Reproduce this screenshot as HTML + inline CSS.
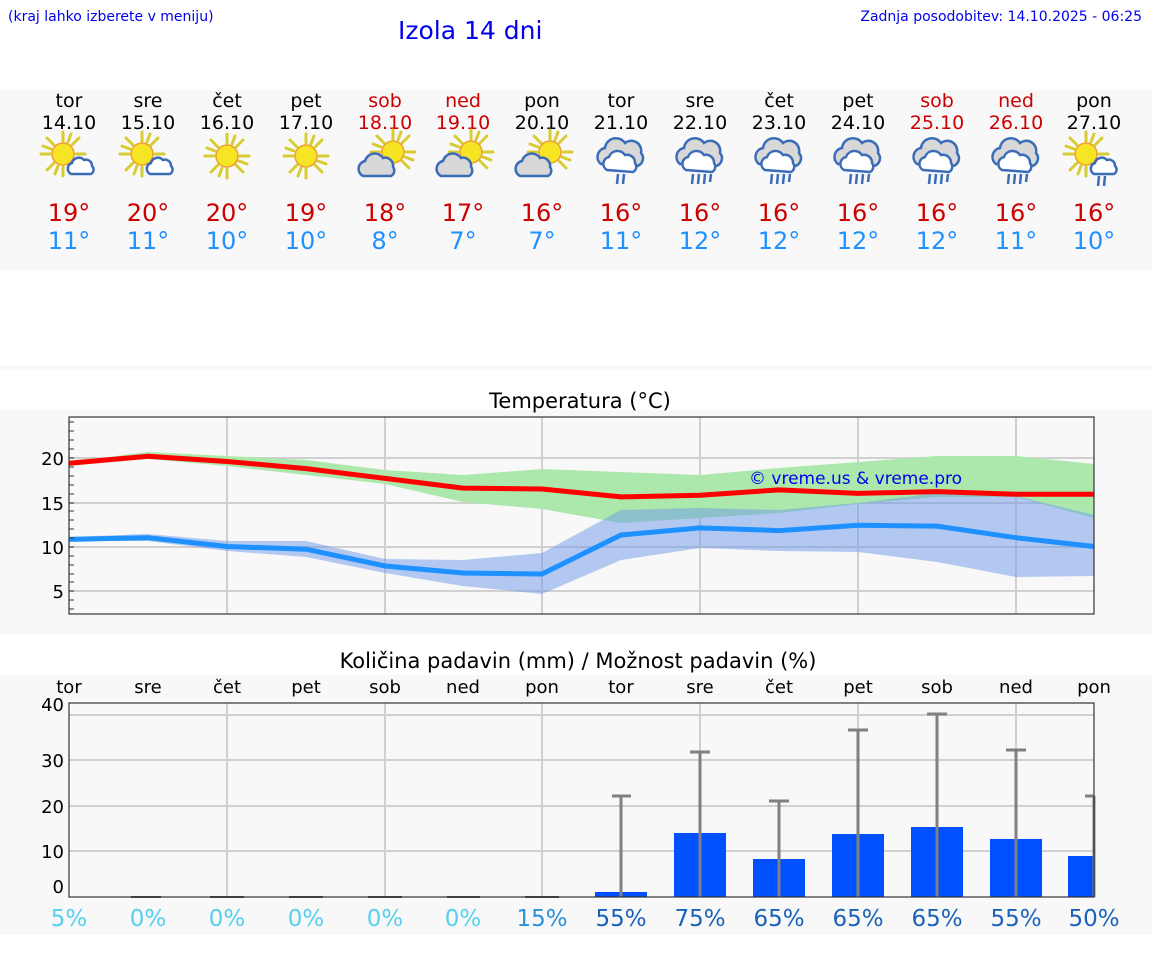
<!DOCTYPE html>
<html><head><meta charset="utf-8"><style>
body{margin:0;background:#fff;}
svg{display:block;font-family:"DejaVu Sans","Liberation Sans",sans-serif;}
</style></head><body>
<svg width="1152" height="975" viewBox="0 0 1152 975" xmlns="http://www.w3.org/2000/svg">
<defs>
<g id="sun">
 <g stroke="#d8cc30" stroke-width="3" stroke-linecap="round">
  <line x1="0" y1="-13" x2="0" y2="-22"/><line x1="0" y1="13" x2="0" y2="22"/>
  <line x1="-13" y1="0" x2="-22" y2="0"/><line x1="13" y1="0" x2="22" y2="0"/>
  <line x1="9" y1="-9" x2="16" y2="-16"/><line x1="-9" y1="9" x2="-16" y2="16"/>
  <line x1="-9" y1="-9" x2="-16" y2="-16"/><line x1="9" y1="9" x2="16" y2="16"/>
  <line x1="5" y1="-12" x2="8" y2="-20"/><line x1="-5" y1="12" x2="-8" y2="20"/>
  <line x1="-12" y1="-5" x2="-20" y2="-8"/><line x1="12" y1="5" x2="20" y2="8"/>
 </g>
 <circle r="11" fill="#f5e525" stroke="#eea030" stroke-width="1.5"/>
</g>
<path id="smallcloud" d="M-10,8 a6,6 0 0 1 1,-11 a7,7 0 0 1 12,-3 a6,6 0 0 1 8,6 a5,5 0 0 1 -1,8 z" fill="#fff" stroke="#3a6cb8" stroke-width="2.5"/>
<path id="graycloud" d="M-16,10 a8,8 0 0 1 2,-15 a10,10 0 0 1 18,-3 a8,8 0 0 1 10,9 a6,6 0 0 1 -2,9 z" fill="#d8d8d8" stroke="#3a6cb8" stroke-width="2.5"/>
<g id="raincloud">
 <path d="M-20,4 a9,9 0 0 1 4,-16 a11,11 0 0 1 20,-5 a10,10 0 0 1 16,10 a8,8 0 0 1 -4,13 z" fill="#d8d8d8" stroke="#3a6cb8" stroke-width="2.5"/>
 <path d="M-14,10 a7,7 0 0 1 2,-13 a9,9 0 0 1 16,-2 a8,8 0 0 1 10,8 a6,6 0 0 1 -2,9 z" fill="#fff" stroke="#3a6cb8" stroke-width="2.5"/>
</g>
<g id="drops4" stroke="#3a6cb8" stroke-width="2.5"><line x1="-7" y1="14" x2="-8" y2="24"/><line x1="-1" y1="14" x2="-2" y2="24"/><line x1="5" y1="14" x2="4" y2="24"/><line x1="11" y1="14" x2="10" y2="22"/></g>
<g id="drops2" stroke="#3a6cb8" stroke-width="2.5"><line x1="-3" y1="14" x2="-4" y2="24"/><line x1="3" y1="14" x2="2" y2="24"/></g>
<g id="i_sunc"><use href="#sun" x="-6" y="-4"/><use href="#smallcloud" x="12" y="8"/></g>
<g id="i_sun"><use href="#sun"/></g>
<g id="i_csun"><use href="#sun" x="8" y="-6"/><use href="#graycloud" x="-6" y="8"/></g>
<g id="i_rain"><use href="#raincloud"/><use href="#drops4"/></g>
<g id="i_rain2"><use href="#raincloud"/><use href="#drops2"/></g>
<g id="i_sunrain"><use href="#sun" x="-8" y="-6"/><use href="#smallcloud" x="10" y="6"/><use href="#drops2" x="8" y="2"/></g>
</defs>

<text x="8" y="21" font-size="14" fill="#0000ee">(kraj lahko izberete v meniju)</text>
<text x="398" y="39" font-size="25" fill="#0000ee">Izola 14 dni</text>
<text x="1142" y="21" font-size="14" fill="#0000ee" text-anchor="end">Zadnja posodobitev: 14.10.2025 - 06:25</text>

<rect x="0" y="90" width="1152" height="180" fill="#f8f8f8"/>
<rect x="0" y="365" width="1152" height="5" fill="#f8f8f8"/>
<g font-size="19" text-anchor="middle">
<g fill="#000"><text x="69" y="107">tor</text><text x="148" y="107">sre</text><text x="227" y="107">čet</text><text x="306" y="107">pet</text><text x="542" y="107">pon</text><text x="621" y="107">tor</text><text x="700" y="107">sre</text><text x="779" y="107">čet</text><text x="858" y="107">pet</text><text x="1094" y="107">pon</text>
<text x="69" y="129">14.10</text><text x="148" y="129">15.10</text><text x="227" y="129">16.10</text><text x="306" y="129">17.10</text><text x="542" y="129">20.10</text><text x="621" y="129">21.10</text><text x="700" y="129">22.10</text><text x="779" y="129">23.10</text><text x="858" y="129">24.10</text><text x="1094" y="129">27.10</text></g>
<g fill="#cc0000"><text x="385" y="107">sob</text><text x="463" y="107">ned</text><text x="937" y="107">sob</text><text x="1016" y="107">ned</text>
<text x="385" y="129">18.10</text><text x="463" y="129">19.10</text><text x="937" y="129">25.10</text><text x="1016" y="129">26.10</text></g>
</g>
<use href="#i_sunc" x="69" y="158"/><use href="#i_sunc" x="148" y="158"/>
<use href="#i_sun" x="227" y="156"/><use href="#i_sun" x="306" y="156"/>
<use href="#i_csun" x="385" y="158"/><use href="#i_csun" x="463" y="158"/><use href="#i_csun" x="542" y="158"/>
<use href="#i_rain2" x="621" y="160"/><use href="#i_rain" x="700" y="160"/><use href="#i_rain" x="779" y="160"/><use href="#i_rain" x="858" y="160"/><use href="#i_rain" x="937" y="160"/><use href="#i_rain" x="1016" y="160"/>
<use href="#i_sunrain" x="1094" y="160"/>

<g font-size="24" text-anchor="middle" fill="#cc0000">
<text x="69" y="221">19°</text><text x="148" y="221">20°</text><text x="227" y="221">20°</text><text x="306" y="221">19°</text><text x="385" y="221">18°</text><text x="463" y="221">17°</text><text x="542" y="221">16°</text><text x="621" y="221">16°</text><text x="700" y="221">16°</text><text x="779" y="221">16°</text><text x="858" y="221">16°</text><text x="937" y="221">16°</text><text x="1016" y="221">16°</text><text x="1094" y="221">16°</text></g>
<g font-size="24" text-anchor="middle" fill="#1e90ff">
<text x="69" y="249">11°</text><text x="148" y="249">11°</text><text x="227" y="249">10°</text><text x="306" y="249">10°</text><text x="385" y="249">8°</text><text x="463" y="249">7°</text><text x="542" y="249">7°</text><text x="621" y="249">11°</text><text x="700" y="249">12°</text><text x="779" y="249">12°</text><text x="858" y="249">12°</text><text x="937" y="249">12°</text><text x="1016" y="249">11°</text><text x="1094" y="249">10°</text></g>

<!-- Temperature -->
<rect x="0" y="410" width="1152" height="225" fill="#f8f8f8"/>
<text x="580" y="408" font-size="21" text-anchor="middle" fill="#000">Temperatura (°C)</text>
<g stroke="#d0d0d0" stroke-width="2">
<line x1="69" y1="458" x2="1094" y2="458"/><line x1="69" y1="503" x2="1094" y2="503"/><line x1="69" y1="547" x2="1094" y2="547"/><line x1="69" y1="591" x2="1094" y2="591"/>
<line x1="227" y1="417" x2="227" y2="614"/><line x1="385" y1="417" x2="385" y2="614"/><line x1="542" y1="417" x2="542" y2="614"/><line x1="700" y1="417" x2="700" y2="614"/><line x1="858" y1="417" x2="858" y2="614"/><line x1="1016" y1="417" x2="1016" y2="614"/>
</g>
<polygon fill="#ace8ac" points="69,462 148,452 227,456 306,460 385,470 463,475 542,469 621,472 700,475 779,468 858,462 937,456 1016,456 1094,464 1094,518 1016,497 937,497 858,504 779,513 700,518 621,523 542,509 463,502 385,484 306,475 227,466 148,459 69,466"/>
<polygon fill="#6b98e8" fill-opacity="0.5" points="69,537 148,534 227,541 306,541 385,559 463,560 542,553 621,510 700,508 779,510 858,503 937,493 1016,496 1094,515 1094,576 1016,577 937,562 858,552 779,551 700,548 621,560 542,594 463,586 385,573 306,557 227,551 148,541 69,541"/>
<polyline fill="none" stroke="#ff0000" stroke-width="5" points="69,463.3 148,456.2 227,461.5 306,468.6 385,478.4 463,488.1 542,489 621,496.9 700,495.2 779,489.9 858,493.4 937,491.6 1016,494.3 1094,494.3"/>
<polyline fill="none" stroke="#1e90ff" stroke-width="5" points="69,539.4 148,537.7 227,546.5 306,549.2 385,566 463,573 542,574 621,535 700,527.9 779,530.6 858,525.3 937,526.1 1016,537.7 1094,546.5"/>
<rect x="69" y="417" width="1025" height="197" fill="none" stroke="#333" stroke-width="1.2"/>
<g stroke="#333" stroke-width="1">
<line x1="69" y1="422" x2="74" y2="422"/><line x1="69" y1="431" x2="74" y2="431"/><line x1="69" y1="440" x2="74" y2="440"/><line x1="69" y1="449" x2="74" y2="449"/><line x1="69" y1="458" x2="74" y2="458"/><line x1="69" y1="467" x2="74" y2="467"/><line x1="69" y1="476" x2="74" y2="476"/><line x1="69" y1="485" x2="74" y2="485"/><line x1="69" y1="494" x2="74" y2="494"/><line x1="69" y1="503" x2="74" y2="503"/><line x1="69" y1="511" x2="74" y2="511"/><line x1="69" y1="520" x2="74" y2="520"/><line x1="69" y1="529" x2="74" y2="529"/><line x1="69" y1="538" x2="74" y2="538"/><line x1="69" y1="547" x2="74" y2="547"/><line x1="69" y1="556" x2="74" y2="556"/><line x1="69" y1="565" x2="74" y2="565"/><line x1="69" y1="574" x2="74" y2="574"/><line x1="69" y1="582" x2="74" y2="582"/><line x1="69" y1="591" x2="74" y2="591"/><line x1="69" y1="600" x2="74" y2="600"/><line x1="69" y1="609" x2="74" y2="609"/>
</g>
<g font-size="18" text-anchor="end" fill="#000"><text x="64" y="465">20</text><text x="64" y="510">15</text><text x="64" y="554">10</text><text x="64" y="598">5</text></g>
<text x="749" y="484" font-size="17" fill="#0000ee">© vreme.us &amp; vreme.pro</text>

<!-- Precipitation -->
<rect x="0" y="675" width="1152" height="260" fill="#f8f8f8"/>
<text x="578" y="668" font-size="21" text-anchor="middle" fill="#000">Količina padavin (mm) / Možnost padavin (%)</text>
<g font-size="18" text-anchor="middle" fill="#000">
<text x="69" y="693">tor</text><text x="148" y="693">sre</text><text x="227" y="693">čet</text><text x="306" y="693">pet</text><text x="385" y="693">sob</text><text x="463" y="693">ned</text><text x="542" y="693">pon</text><text x="621" y="693">tor</text><text x="700" y="693">sre</text><text x="779" y="693">čet</text><text x="858" y="693">pet</text><text x="937" y="693">sob</text><text x="1016" y="693">ned</text><text x="1094" y="693">pon</text></g>
<g stroke="#d0d0d0" stroke-width="2">
<line x1="69" y1="715" x2="1094" y2="715"/><line x1="69" y1="760" x2="1094" y2="760"/><line x1="69" y1="806" x2="1094" y2="806"/><line x1="69" y1="851" x2="1094" y2="851"/>
<line x1="227" y1="703" x2="227" y2="897"/><line x1="385" y1="703" x2="385" y2="897"/><line x1="542" y1="703" x2="542" y2="897"/><line x1="700" y1="703" x2="700" y2="897"/><line x1="858" y1="703" x2="858" y2="897"/><line x1="1016" y1="703" x2="1016" y2="897"/>
</g>
<g fill="#0050ff">
<rect x="595" y="892" width="52" height="5"/><rect x="674" y="833" width="52" height="64"/><rect x="753" y="859" width="52" height="38"/><rect x="832" y="834" width="52" height="63"/><rect x="911" y="827" width="52" height="70"/><rect x="990" y="839" width="52" height="58"/><rect x="1068" y="856" width="26" height="41"/>
</g>
<g stroke="#808080" stroke-width="3">
<line x1="621" y1="796" x2="621" y2="897"/><line x1="612" y1="796" x2="631" y2="796"/>
<line x1="700" y1="752" x2="700" y2="897"/><line x1="690" y1="752" x2="710" y2="752"/>
<line x1="779" y1="801" x2="779" y2="897"/><line x1="769" y1="801" x2="789" y2="801"/>
<line x1="858" y1="730" x2="858" y2="897"/><line x1="848" y1="730" x2="868" y2="730"/>
<line x1="937" y1="714" x2="937" y2="897"/><line x1="927" y1="714" x2="947" y2="714"/>
<line x1="1016" y1="750" x2="1016" y2="897"/><line x1="1006" y1="750" x2="1026" y2="750"/>
<line x1="1094" y1="796" x2="1094" y2="897"/><line x1="1085" y1="796" x2="1094" y2="796"/>
</g>
<g stroke="#555" stroke-width="2"><line x1="131" y1="897" x2="161" y2="897"/><line x1="210" y1="897" x2="244" y2="897"/><line x1="289" y1="897" x2="323" y2="897"/><line x1="368" y1="897" x2="402" y2="897"/><line x1="447" y1="897" x2="480" y2="897"/><line x1="525" y1="897" x2="559" y2="897"/></g>
<rect x="69" y="703" width="1025" height="194" fill="none" stroke="#333" stroke-width="1.2"/>
<g font-size="18" text-anchor="end" fill="#000"><text x="64" y="711">40</text><text x="64" y="767">30</text><text x="64" y="813">20</text><text x="64" y="858">10</text><text x="64" y="893">0</text></g>
<g font-size="23" text-anchor="middle">
<g fill="#55d0f0"><text x="69" y="926">5%</text><text x="148" y="926">0%</text><text x="227" y="926">0%</text><text x="306" y="926">0%</text><text x="385" y="926">0%</text><text x="463" y="926">0%</text></g>
<text x="542" y="926" fill="#2a90d8">15%</text>
<g fill="#1a62b8"><text x="621" y="926">55%</text><text x="700" y="926">75%</text><text x="779" y="926">65%</text><text x="858" y="926">65%</text><text x="937" y="926">65%</text><text x="1016" y="926">55%</text><text x="1094" y="926">50%</text></g>
</g>
</svg>
</body></html>
